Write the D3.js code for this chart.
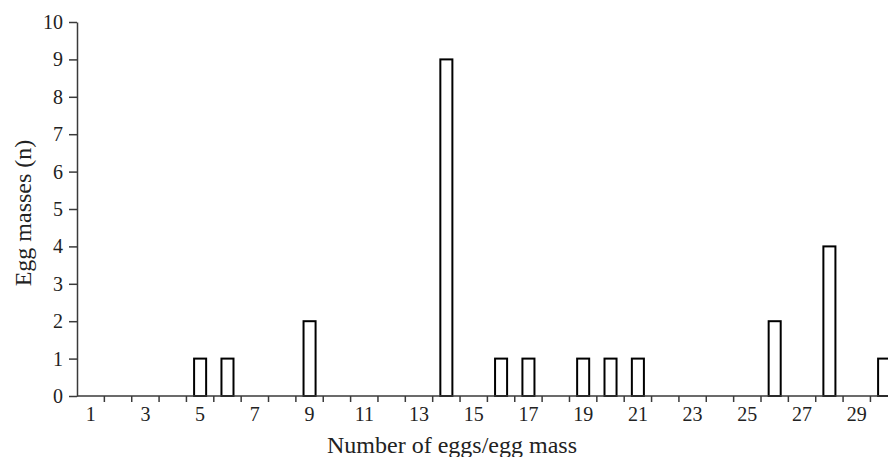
<!DOCTYPE html>
<html>
<head>
<meta charset="utf-8">
<script src="https://cdn.jsdelivr.net/npm/d3@7"></script>
<style>
html,body{margin:0;padding:0;background:#fff;overflow:hidden;}
text{font-family:"Liberation Serif","Times New Roman",serif;fill:#222;}
</style>
</head>
<body>
<svg id="chart" width="888" height="457"></svg>
<script>
const categories = d3.range(1, 31);
const barCategories = [5, 6, 9, 14, 16, 17, 19, 20, 21, 26, 28, 30];
const barValues = [1, 1, 2, 9, 1, 1, 1, 1, 1, 2, 4, 1];
const xTickLabels = [1, 3, 5, 7, 9, 11, 13, 15, 17, 19, 21, 23, 25, 27, 29];
const yTicks = [0, 1, 2, 3, 4, 5, 6, 7, 8, 9, 10];
const xTitle = "Number of eggs/egg mass";
const yTitle = "Egg masses (n)";

const svg = d3.select("#chart");
const mLeft = 77, mTop = 22, mBottom = 396, step = 27.36;
const pIn = 0.56;
const x = d3.scaleBand().domain(categories).range([mLeft, mLeft + step * categories.length])
  .paddingInner(pIn).paddingOuter(pIn / 2);
const y = d3.scaleLinear().domain([0, 10]).range([mBottom, mTop]);

const axisColor = "#3a3a3a";

// bars
const data = barCategories.map((c, i) => ({c, v: barValues[i]}));
svg.append("g").selectAll("rect").data(data).join("rect")
  .attr("x", d => x(d.c))
  .attr("y", d => y(d.v))
  .attr("width", x.bandwidth())
  .attr("height", d => y(0) - y(d.v))
  .attr("fill", "#fff")
  .attr("stroke", "#000")
  .attr("stroke-width", 2);

// y axis
const yAxis = svg.append("g").attr("transform", `translate(${mLeft},0)`)
  .call(d3.axisLeft(y).tickValues(yTicks).tickSize(8).tickPadding(6).tickSizeOuter(0));
yAxis.select(".domain").attr("stroke", axisColor).attr("stroke-width", 1.5);
yAxis.selectAll(".tick line").attr("stroke", axisColor).attr("stroke-width", 1.5);
yAxis.selectAll(".tick text").attr("font-size", 20).attr("font-family", "Liberation Serif").attr("fill", "#222");

// x axis baseline
const xEnd = mLeft + step * categories.length;
svg.append("line").attr("x1", mLeft).attr("x2", xEnd).attr("y1", mBottom).attr("y2", mBottom)
  .attr("stroke", axisColor).attr("stroke-width", 1.5);

// x boundary ticks
const gap = x.step() - x.bandwidth();
svg.append("g").selectAll("line").data(categories).join("line")
  .attr("x1", c => x(c) + x.bandwidth() + gap / 2)
  .attr("x2", c => x(c) + x.bandwidth() + gap / 2)
  .attr("y1", mBottom).attr("y2", mBottom + 6)
  .attr("stroke", axisColor).attr("stroke-width", 1.5);

// x tick labels
svg.append("g").selectAll("text").data(xTickLabels).join("text")
  .attr("x", c => x(c) + x.bandwidth() / 2)
  .attr("y", 421)
  .attr("text-anchor", "middle")
  .attr("font-size", 20)
  .text(c => c);

// titles
svg.append("text").attr("x", 452).attr("y", 453).attr("text-anchor", "middle")
  .attr("font-size", 24).text(xTitle);
svg.append("text").attr("transform", "translate(31,213) rotate(-90)").attr("text-anchor", "middle")
  .attr("font-size", 24).text(yTitle);
</script>
</body>
</html>
